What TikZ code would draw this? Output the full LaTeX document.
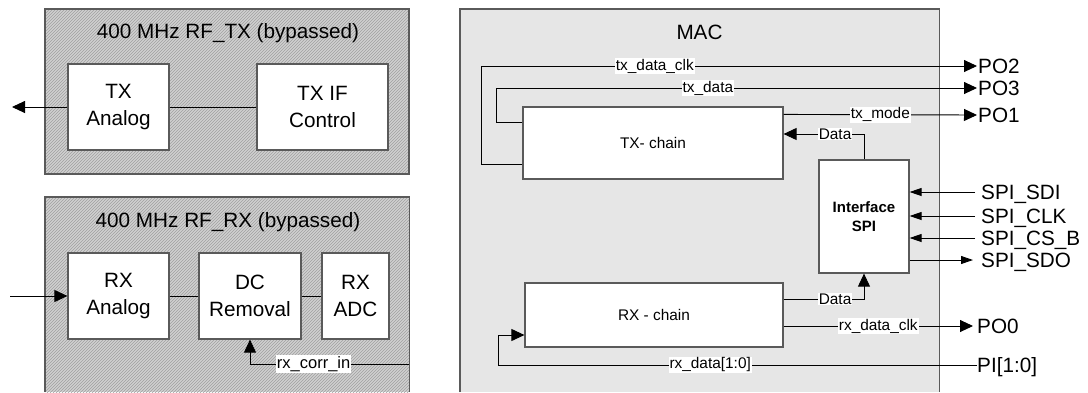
\documentclass[tikz,border=0pt]{standalone}
\usepackage{fontspec}
\setmainfont{Liberation Sans}
\usetikzlibrary{arrows.meta,patterns}
\definecolor{hatchbg}{HTML}{D0D0D0}
\definecolor{hatchln}{HTML}{A0A0A0}
\definecolor{macbg}{HTML}{E6E6E6}
\definecolor{bord}{HTML}{5A5A5A}
\begin{document}
\begin{tikzpicture}[x=1pt,y=-1pt,
  hatchbox/.style={preaction={fill=hatchbg}, pattern=north east lines, pattern color=hatchln, inner sep=0pt},
  macbox/.style={fill=macbg, inner sep=0pt},
  frame/.style={draw=bord, line width=1.4pt},
  blk/.style={draw=bord, line width=1.2pt, fill=white, inner sep=0pt, align=center, font=\fontsize{20.7}{27}\selectfont},
  sblk/.style={draw=bord, line width=1.2pt, fill=white, inner sep=0pt, align=center, font=\fontsize{15.4}{18}\selectfont},
  sig/.style={draw=black, line width=0.9pt},
  arr/.style={sig, -{Triangle[length=13pt,width=12pt]}},
  arrs/.style={sig, -{Triangle[length=12pt,width=8pt]}},
  lbl/.style={fill=white, inner sep=1pt, font=\fontsize{15.4}{18}\selectfont},
  port/.style={inner sep=0pt, anchor=base west, font=\fontsize{20.7}{24}\selectfont},
  ttl/.style={inner sep=0pt, font=\fontsize{20.7}{24}\selectfont}]
\useasboundingbox (0,0) rectangle (1088,392);

% ---------- TX RF block ----------
\node[hatchbox, frame, minimum width=364pt, minimum height=165pt] (TXbox) at (227,91.5) {};
\node[ttl] (TXttl) at (228,33) {400 MHz RF\_TX (bypassed)};
\node[blk, minimum width=101pt, minimum height=86pt] (TXA) at (118.5,107) {TX\\Analog};
\node[blk, minimum width=131pt, minimum height=86pt] (TXIF) at (322.5,107) {TX IF\\Control};
\coordinate (txout) at (12,107);
\draw[sig] (TXA.east) -- (TXIF.west);
\draw[arr] (TXA.west) -- (txout);

% ---------- RX RF block ----------
\node[hatchbox, minimum width=364pt, minimum height=195pt] (RXbox) at (227,294.5) {};
\draw[frame] (RXbox.south west) -- (RXbox.north west) -- (RXbox.north east) -- (RXbox.south east);
\node[ttl] (RXttl) at (228,222.5) {400 MHz RF\_RX (bypassed)};
\node[blk, minimum width=101pt, minimum height=86pt] (RXA) at (118.5,296) {RX\\Analog};
\node[blk, minimum width=102pt, minimum height=86pt] (DCR) at (250,296) {DC\\Removal};
\node[blk, minimum width=67pt, minimum height=86pt] (ADC) at (355.5,296) {RX\\ADC};
\coordinate (rxin) at (10,296);
\coordinate (corr) at (409,364);
\draw[arr] (rxin) -- (RXA.west);
\draw[sig] (RXA.east) -- (DCR.west);
\draw[sig] (DCR.east) -- (ADC.west);
\draw[arr] (corr) -| node[lbl, pos=0.30, font=\fontsize{16.5}{19}\selectfont]{rx\_corr\_in} (DCR.south);

% ---------- MAC ----------
\node[macbox, minimum width=479pt, minimum height=383pt] (MAC) at (699.5,200.5) {};
\draw[frame] (MAC.south west) -- (MAC.north west) -- (MAC.north east) -- (MAC.south east);
\node[ttl] (MACttl) at (699.5,32) {MAC};
\node[sblk, minimum width=260pt, minimum height=72pt] (TXC) at (653,143) {TX- chain};
\node[sblk, minimum width=258pt, minimum height=64pt] (RXC) at (654,315) {RX - chain};
\node[sblk, minimum width=90pt, minimum height=113pt, font=\bfseries\fontsize{15}{19}\selectfont] (SPI) at (864,216.5) {Interface\\SPI};

% port coordinates
\coordinate (po2) at (977,66);
\coordinate (po3) at (977,88);
\coordinate (po1) at (977,115);
\coordinate (po0) at (973,326);
\coordinate (pi) at (977,365);
\coordinate (sdi) at (975,192);
\coordinate (clk) at (975,216);
\coordinate (csb) at (975,238);
\coordinate (sdo) at (973,260);

% TX signals
\draw[arr] ([yshift=15pt]TXC.south west) -- ++(-41,0) |- node[lbl, pos=0.675]{tx\_data\_clk} (po2);
\draw[arr] ([yshift=-16pt]TXC.north west) -- ++(-26,0) |- node[lbl, pos=0.72]{tx\_data} (po3);
\draw[arr] ([yshift=-8pt]TXC.north east) -- node[lbl, pos=0.5]{tx\_mode} (po1);
\draw[arr] (SPI.north) |- node[lbl, pos=0.68]{Data} ([yshift=9pt]TXC.east);

% RX signals
\draw[arr] ([yshift=16pt]RXC.east) -| node[lbl, pos=0.32]{Data} (SPI.south);
\draw[arr] ([yshift=-11pt]RXC.east) -- node[lbl, pos=0.5]{rx\_data\_clk} (po0);
\draw[arr] (pi) -- node[lbl, pos=0.557]{rx\_data[1:0]} (498,365) |- ([yshift=-20pt]RXC.west);

% SPI pins
\draw[arrs] (sdi) -- (SPI.east |- sdi);
\draw[arrs] (clk) -- (SPI.east |- clk);
\draw[arrs] (csb) -- (SPI.east |- csb);
\draw[arrs] (SPI.east |- sdo) -- (sdo);

% port labels
\node[port] (lpo2) at ([shift={(1,7)}]po2) {PO2};
\node[port] (lpo3) at ([shift={(1,7)}]po3) {PO3};
\node[port] (lpo1) at ([shift={(1,7)}]po1) {PO1};
\node[port] (lpo0) at ([shift={(4,7)}]po0) {PO0};
\node[port] (lpi) at ([shift={(0,7)}]pi) {PI[1:0]};
\node[port] (lsdi) at (981,199) {SPI\_SDI};
\node[port] (lclk) at (981,223) {SPI\_CLK};
\node[port] (lcsb) at (981,245) {SPI\_CS\_B};
\node[port] (lsdo) at (981,267) {SPI\_SDO};
\end{tikzpicture}
\end{document}
